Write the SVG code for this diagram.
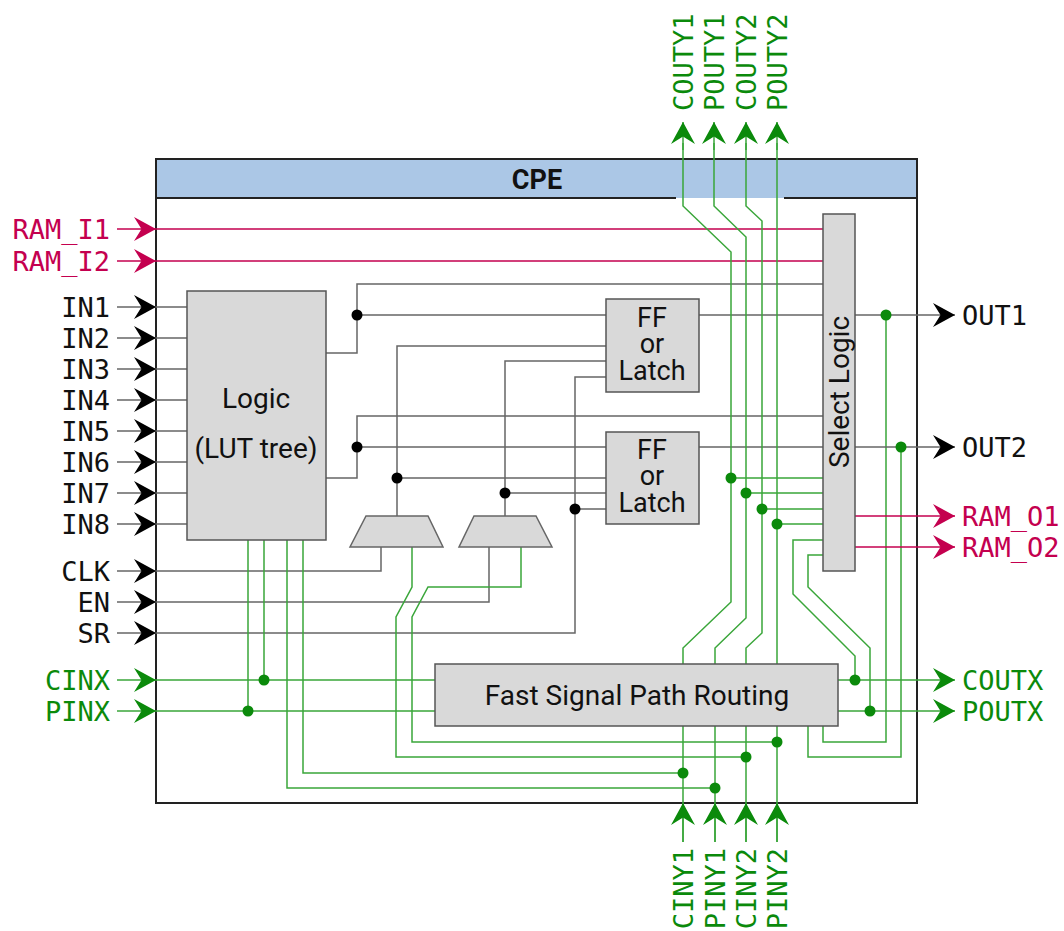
<svg xmlns="http://www.w3.org/2000/svg" width="1064" height="931" viewBox="0 0 1064 931">
<style>
.g{fill:none;stroke:#666;stroke-width:1.5}
.r{fill:none;stroke:#c4004f;stroke-width:1.5}
.gr{fill:none;stroke:#3aa63a;stroke-width:1.5}
.box{fill:#d9d9d9;stroke:#555;stroke-width:1.5}
.sans{font-family:Roboto,"Liberation Sans",sans-serif;font-size:28px;fill:#111}
.ff{font-size:27px}
.mono{font-family:"DejaVu Sans Mono","Liberation Mono",monospace;font-size:27px}
.kb{fill:#111}.kr{fill:#c4004f}.kg{fill:#0b8a0b}
.db{fill:#000}.dg{fill:#0b8a0b}
</style>
<defs>
<marker id="ak" markerUnits="userSpaceOnUse" viewBox="-24 -13 26 26" markerWidth="26" markerHeight="26" refX="0" refY="0" orient="auto"><path d="M0,0 L-22,-12 L-14.5,0 L-22,12 Z" fill="#000"/></marker>
<marker id="ar" markerUnits="userSpaceOnUse" viewBox="-24 -13 26 26" markerWidth="26" markerHeight="26" refX="0" refY="0" orient="auto"><path d="M0,0 L-22,-12 L-14.5,0 L-22,12 Z" fill="#c4004f"/></marker>
<marker id="ag" markerUnits="userSpaceOnUse" viewBox="-24 -13 26 26" markerWidth="26" markerHeight="26" refX="0" refY="0" orient="auto"><path d="M0,0 L-22,-12 L-14.5,0 L-22,12 Z" fill="#0b8a0b"/></marker>
</defs>
<rect width="1064" height="931" fill="#fff"/>
<g id="cpe">
<rect x="156" y="159" width="761" height="39" fill="#abc7e6"/>
<rect x="156" y="159" width="761" height="644" fill="none" stroke="#222" stroke-width="2"/>
<path d="M156,198 H676 M784,198 H917" stroke="#222" stroke-width="2" fill="none"/>
<text x="537" y="189" text-anchor="middle" style="font-family:Roboto,'Liberation Sans',sans-serif;font-size:27px;font-weight:bold;fill:#111">CPE</text>
</g>
<g id="connectors">
<path class="g" d="M156,307H187M156,338H187M156,369H187M156,400H187M156,431H187M156,462H187M156,493H187M156,524H187"/>
<path class="g" d="M326,353H357V284H823M357,315H606M699,315H823M606,346H397V516M606,361H505V516M606,377H575V633H156"/>
<path class="g" d="M326,478H357V416H823M357,447H606M699,447H823M397,478H606M505,493H606M575,509H606"/>
<path class="g" d="M156,571H381V547M156,602H489V547"/>
<path class="r" d="M156,229H823M156,261H823"/>
<path class="gr" d="M156,680H435M156,711H435M264,540V680M248,540V711M287,540V788H715M303,540V773H683"/>
<path class="gr" d="M412,547V587L396,617V757H746M521,547V587H428L412,617V742H777"/>
<path class="gr" d="M683,143V206L731,252V602L683,648V842M714,143V206L746,237V618L715,648V842M746,143V206L762,221V633L746,648V842M777,143V842"/>
<path class="gr" d="M731,478H823M746,493H823M762,509H823M777,524H823"/>
<path class="gr" d="M823,540H793V594L855,656V680M823,555H808V587L870,648V711"/>
<path class="gr" d="M886,315V742H823V726M901,447V757H808V726"/>
<line class="g" x1="117" y1="307" x2="156" y2="307" marker-end="url(#ak)"/>
<line class="g" x1="117" y1="338" x2="156" y2="338" marker-end="url(#ak)"/>
<line class="g" x1="117" y1="369" x2="156" y2="369" marker-end="url(#ak)"/>
<line class="g" x1="117" y1="400" x2="156" y2="400" marker-end="url(#ak)"/>
<line class="g" x1="117" y1="431" x2="156" y2="431" marker-end="url(#ak)"/>
<line class="g" x1="117" y1="462" x2="156" y2="462" marker-end="url(#ak)"/>
<line class="g" x1="117" y1="493" x2="156" y2="493" marker-end="url(#ak)"/>
<line class="g" x1="117" y1="524" x2="156" y2="524" marker-end="url(#ak)"/>
<line class="g" x1="117" y1="571" x2="156" y2="571" marker-end="url(#ak)"/>
<line class="g" x1="117" y1="602" x2="156" y2="602" marker-end="url(#ak)"/>
<line class="g" x1="117" y1="633" x2="156" y2="633" marker-end="url(#ak)"/>
<line class="r" x1="117" y1="229" x2="156" y2="229" marker-end="url(#ar)"/>
<line class="r" x1="117" y1="261" x2="156" y2="261" marker-end="url(#ar)"/>
<line class="gr" x1="117" y1="680" x2="156" y2="680" marker-end="url(#ag)"/>
<line class="gr" x1="117" y1="711" x2="156" y2="711" marker-end="url(#ag)"/>
<line class="g" x1="855" y1="315" x2="955" y2="315" marker-end="url(#ak)"/>
<line class="g" x1="855" y1="447" x2="955" y2="447" marker-end="url(#ak)"/>
<line class="r" x1="855" y1="516" x2="955" y2="516" marker-end="url(#ar)"/>
<line class="r" x1="855" y1="547" x2="955" y2="547" marker-end="url(#ar)"/>
<line class="gr" x1="838" y1="680" x2="955" y2="680" marker-end="url(#ag)"/>
<line class="gr" x1="838" y1="711" x2="955" y2="711" marker-end="url(#ag)"/>
<line class="gr" x1="683" y1="150" x2="683" y2="122" marker-end="url(#ag)"/>
<line class="gr" x1="714" y1="150" x2="714" y2="122" marker-end="url(#ag)"/>
<line class="gr" x1="746" y1="150" x2="746" y2="122" marker-end="url(#ag)"/>
<line class="gr" x1="777" y1="150" x2="777" y2="122" marker-end="url(#ag)"/>
<line class="gr" x1="683" y1="842" x2="683" y2="803" marker-end="url(#ag)"/>
<line class="gr" x1="715" y1="842" x2="715" y2="803" marker-end="url(#ag)"/>
<line class="gr" x1="746" y1="842" x2="746" y2="803" marker-end="url(#ag)"/>
<line class="gr" x1="777" y1="842" x2="777" y2="803" marker-end="url(#ag)"/>
<circle class="db" cx="357" cy="315" r="5.5"/>
<circle class="db" cx="357" cy="447" r="5.5"/>
<circle class="db" cx="397" cy="478" r="5.5"/>
<circle class="db" cx="505" cy="493" r="5.5"/>
<circle class="db" cx="575" cy="509" r="5.5"/>
<circle class="dg" cx="886" cy="315" r="5.5"/>
<circle class="dg" cx="901" cy="447" r="5.5"/>
<circle class="dg" cx="731" cy="478" r="5.5"/>
<circle class="dg" cx="746" cy="493" r="5.5"/>
<circle class="dg" cx="762" cy="509" r="5.5"/>
<circle class="dg" cx="777" cy="524" r="5.5"/>
<circle class="dg" cx="855" cy="680" r="5.5"/>
<circle class="dg" cx="870" cy="711" r="5.5"/>
<circle class="dg" cx="264" cy="680" r="5.5"/>
<circle class="dg" cx="248" cy="711" r="5.5"/>
<circle class="dg" cx="777" cy="742" r="5.5"/>
<circle class="dg" cx="746" cy="757" r="5.5"/>
<circle class="dg" cx="683" cy="773" r="5.5"/>
<circle class="dg" cx="715" cy="788" r="5.5"/>
</g>
<g id="logic">
<rect class="box" x="187" y="291" width="139" height="249"/>
<text class="sans" x="256" y="408" text-anchor="middle">Logic</text>
<text class="sans" x="256" y="458" text-anchor="middle">(LUT tree)</text>
</g>
<g id="ff1">
<rect class="box" x="606" y="299" width="93" height="93"/>
<text class="sans ff" x="652" y="327" text-anchor="middle">FF</text>
<text class="sans ff" x="652" y="353" text-anchor="middle">or</text>
<text class="sans ff" x="652" y="380" text-anchor="middle">Latch</text>
</g>
<g id="ff2">
<rect class="box" x="606" y="432" width="93" height="92"/>
<text class="sans ff" x="652" y="459" text-anchor="middle">FF</text>
<text class="sans ff" x="652" y="485" text-anchor="middle">or</text>
<text class="sans ff" x="652" y="512" text-anchor="middle">Latch</text>
</g>
<g id="mux1"><polygon class="box" points="366,516 428,516 443,547 350,547" style="stroke:#666"/></g>
<g id="mux2"><polygon class="box" points="474,516 536,516 552,547 459,547" style="stroke:#666"/></g>
<g id="select">
<rect class="box" x="823" y="214" width="32" height="357"/>
<text class="sans" transform="translate(849,392) rotate(-90)" text-anchor="middle">Select Logic</text>
</g>
<g id="fast">
<rect class="box" x="435" y="664" width="403" height="62"/>
<text class="sans" x="637" y="705" text-anchor="middle">Fast Signal Path Routing</text>
</g>
<g id="labels" class="mono">
<text class="kr" x="110" y="239" text-anchor="end">RAM_I1</text>
<text class="kr" x="110" y="271" text-anchor="end">RAM_I2</text>
<text class="kb" x="110" y="317" text-anchor="end">IN1</text>
<text class="kb" x="110" y="348" text-anchor="end">IN2</text>
<text class="kb" x="110" y="379" text-anchor="end">IN3</text>
<text class="kb" x="110" y="410" text-anchor="end">IN4</text>
<text class="kb" x="110" y="441" text-anchor="end">IN5</text>
<text class="kb" x="110" y="472" text-anchor="end">IN6</text>
<text class="kb" x="110" y="503" text-anchor="end">IN7</text>
<text class="kb" x="110" y="534" text-anchor="end">IN8</text>
<text class="kb" x="110" y="581" text-anchor="end">CLK</text>
<text class="kb" x="110" y="612" text-anchor="end">EN</text>
<text class="kb" x="110" y="643" text-anchor="end">SR</text>
<text class="kg" x="110" y="690" text-anchor="end">CINX</text>
<text class="kg" x="110" y="721" text-anchor="end">PINX</text>
<text class="kb" x="962" y="325">OUT1</text>
<text class="kb" x="962" y="457">OUT2</text>
<text class="kr" x="962" y="526">RAM_O1</text>
<text class="kr" x="962" y="557">RAM_O2</text>
<text class="kg" x="962" y="690">COUTX</text>
<text class="kg" x="962" y="721">POUTX</text>
<text class="kg" transform="translate(693,111) rotate(-90)">COUTY1</text>
<text class="kg" transform="translate(724,111) rotate(-90)">POUTY1</text>
<text class="kg" transform="translate(756,111) rotate(-90)">COUTY2</text>
<text class="kg" transform="translate(787,111) rotate(-90)">POUTY2</text>
<text class="kg" transform="translate(693,848) rotate(-90)" text-anchor="end">CINY1</text>
<text class="kg" transform="translate(725,848) rotate(-90)" text-anchor="end">PINY1</text>
<text class="kg" transform="translate(756,848) rotate(-90)" text-anchor="end">CINY2</text>
<text class="kg" transform="translate(787,848) rotate(-90)" text-anchor="end">PINY2</text>
</g>
</svg>
